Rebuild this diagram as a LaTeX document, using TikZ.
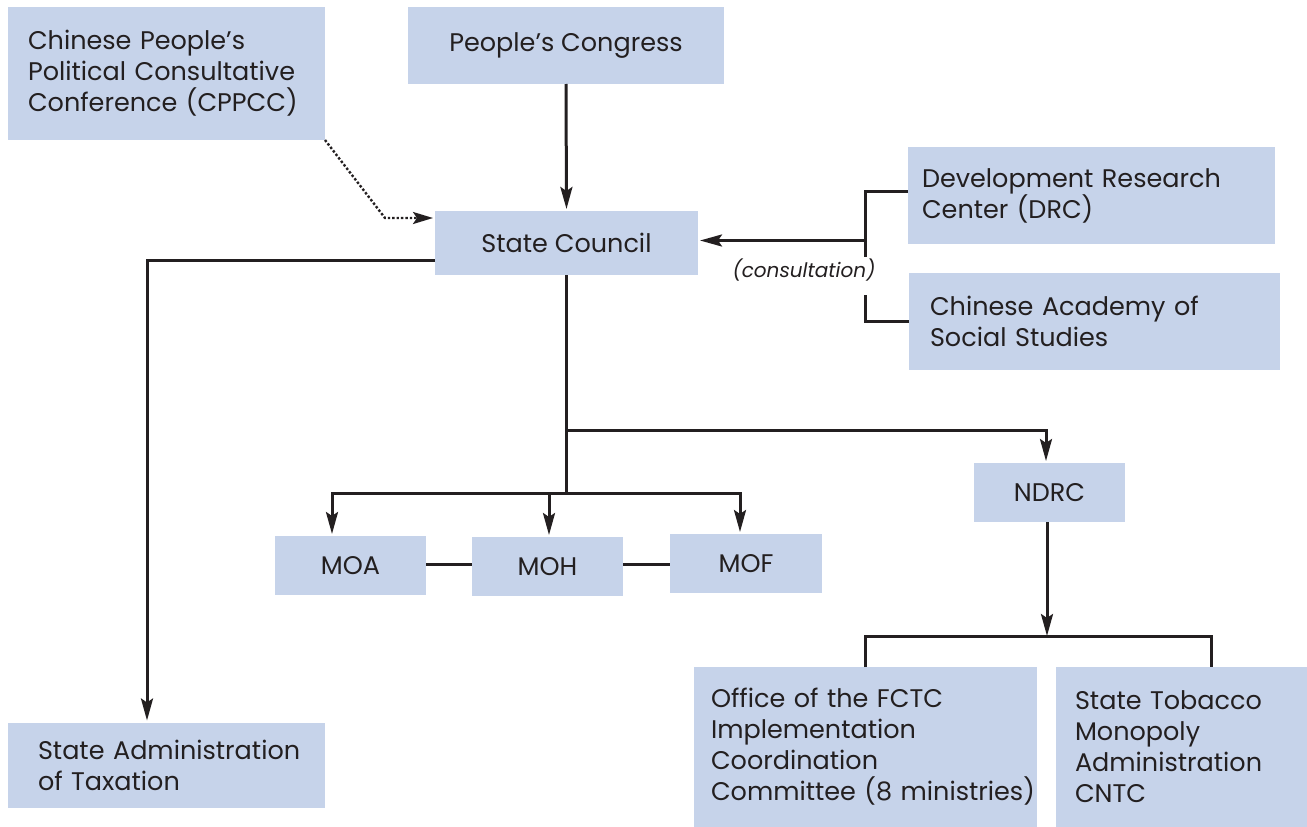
\documentclass[tikz,border=0pt]{standalone}
\usepackage{fontspec}
\setmainfont{Poppins}
\usetikzlibrary{arrows.meta,calc}
\definecolor{boxblue}{RGB}{198,211,234}
\definecolor{ink}{RGB}{35,31,32}
\newcommand\nohy{\hyphenpenalty=10000\relax\exhyphenpenalty=10000\relax}
\begin{document}
\begin{tikzpicture}[x=1pt,y=-1pt,
  box/.style={fill=boxblue, inner sep=0pt, outer sep=0pt, text=ink, font=\fontsize{25.5}{31}\selectfont\nohy},
  lbox/.style={box, align=left},
  conn/.style={draw=ink, line width=3pt},
  arr/.style={conn, -{Stealth[length=22pt,width=12pt,inset=4pt]}, shorten >=2pt},
  dotarr/.style={draw=ink, line width=2.4pt, dotted, -{Stealth[length=20pt,width=12pt,inset=4pt]}, shorten >=2pt}]
\useasboundingbox (0,0) rectangle (1307,827);
% boxes
\node[lbox, minimum width=317, minimum height=133, inner xsep=20pt, text width=277pt] (cppcc) at (166.5,73.5) {Chinese~People’s\\Political~Consultative\\Conference~(CPPCC)};
\node[box, minimum width=316, minimum height=77] (pc) at (566,45.5) {People’s Congress};
\node[box, minimum width=263, minimum height=64] (sc) at (566.5,243) {State Council};
\node[lbox, minimum width=367, minimum height=97, inner xsep=14pt, text width=339pt] (drc) at (1091.5,195.5) {Development~Research\\Center~(DRC)};
\node[lbox, minimum width=371, minimum height=97, inner xsep=21pt, text width=329pt] (cass) at (1094.5,321.5) {Chinese~Academy~of\\Social~Studies};
\node[box, minimum width=151, minimum height=59] (moa) at (350.5,565.5) {MOA};
\node[box, minimum width=151, minimum height=59] (moh) at (547.5,566.5) {MOH};
\node[box, minimum width=152, minimum height=59] (mof) at (746,563.5) {MOF};
\node[box, minimum width=151, minimum height=59] (ndrc) at (1049.5,492.5) {NDRC};
\node[lbox, minimum width=343, minimum height=160, inner xsep=17pt, text width=309pt] (fctc) at (865.5,747) {Office~of~the~FCTC\\Implementation\\Coordination\\Committee~(8~ministries)};
\node[lbox, minimum width=251, minimum height=160, inner xsep=19pt, text width=213pt] (stma) at (1181.5,747) {State~Tobacco\\Monopoly\\Administration\\CNTC};
\node[lbox, minimum width=317, minimum height=85, inner xsep=30pt, text width=257pt] (sat) at (166.5,765) {State~Administration\\of~Taxation};
\node[text=ink, inner sep=0pt, font=\fontsize{20}{22}\selectfont\itshape] (cons) at (804,270) {(consultation)};
% junctions
\coordinate (j1) at (566.5,493);
\coordinate (j2) at (566.5,430);
\coordinate (j3) at (1047,636);
\coordinate (k) at (865,240.5);
\coordinate (kt) at (865,257);
\coordinate (kb) at (865,295);
% connectors
\draw[arr] (pc.south) -- (sc.north);
\draw[dotarr] (cppcc.south east) -- ([xshift=-50pt,yshift=25pt]sc.west) -- ([yshift=25pt]sc.west);
\draw[arr] ([yshift=-17pt]sc.west) -| ([xshift=-19.5pt]sat.north);
\draw[conn] (sc.south) -- (j1);
\draw[arr] (j1) -| ([xshift=-18.5pt]moa.north);
\draw[arr] (j1) -| ([xshift=1.5pt]moh.north);
\draw[arr] (j1) -| ([xshift=-6pt]mof.north);
\draw[arr] (j2) -| ([xshift=-3.5pt]ndrc.north);
\draw[arr, shorten >=0pt] (ndrc.south -| j3) -- (j3);
\draw[conn] ([xshift=-0.5pt]fctc.north) |- (j3) -| ([xshift=29.5pt]stma.north);
\draw[conn] ([yshift=4.5pt]drc.west) -| (kt);
\draw[conn] (cass.west) -| (kb);
\draw[arr] (k) -- (k -| sc.east);
\draw[conn] (moa.east |- 0,564) -- (moh.west |- 0,564);
\draw[conn] (moh.east |- 0,564) -- (mof.west |- 0,564);
\end{tikzpicture}
\end{document}
